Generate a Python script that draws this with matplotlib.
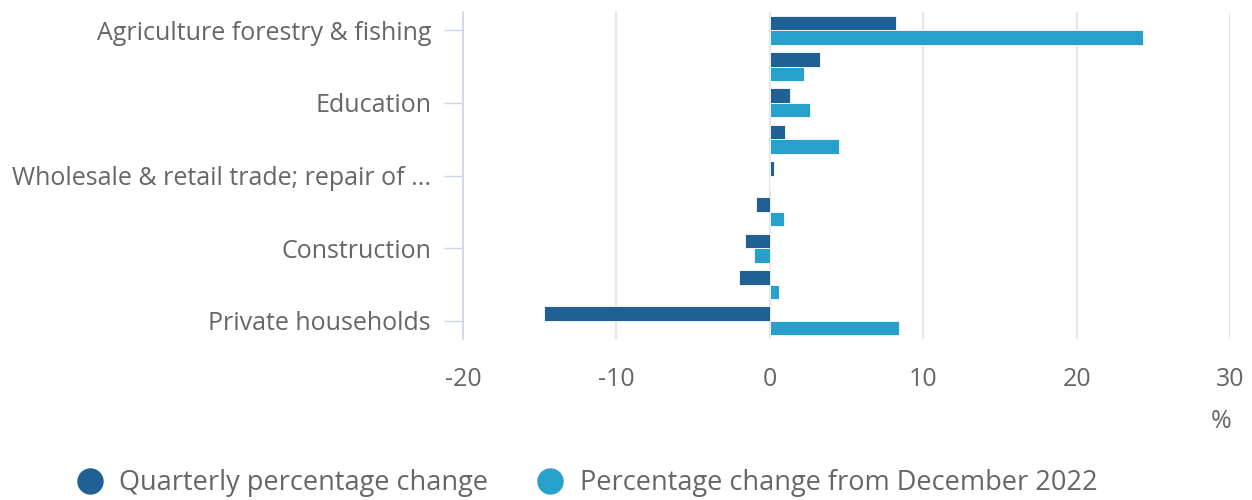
import matplotlib.pyplot as plt
from matplotlib.lines import Line2D
import numpy as np

plt.rcParams['font.family'] = ['Open Sans', 'DejaVu Sans']

# nine industries, only every other one is labelled on the chart
labels = ["Agriculture forestry & fishing", "", "Education", "",
          "Wholesale & retail trade; repair of ...", "", "Construction", "",
          "Private households"]
quarterly = [8.2, 3.3, 1.3, 1.0, 0.3, -0.9, -1.6, -2.0, -14.7]
since_dec22 = [24.3, 2.2, 2.6, 4.5, 0.0, 0.9, -1.0, 0.6, 8.4]
series_names = ["Quarterly percentage change",
                "Percentage change from December 2022"]

dark = '#206095'
light = '#27a0cc'
txt = '#666666'
axcol = '#ccd6eb'

fig = plt.figure(figsize=(12.52, 5), dpi=100)
ax = fig.add_axes([463/1252, 1-339/500, (1230-463)/1252, (339-12)/500])

y = np.arange(len(labels))
h = 0.4
ax.barh(y - h/2, quarterly, height=h, color=dark, edgecolor='white', linewidth=0.6, zorder=3)
ax.barh(y + h/2, since_dec22, height=h, color=light, edgecolor='white', linewidth=0.6, zorder=3)

ax.set_xlim(-20, 30)
ax.set_ylim(len(labels) - 0.5, -0.5)
ax.set_xticks([-20, -10, 0, 10, 20, 30])
ax.set_xticklabels(['-20', '-10', '0', '10', '20', '30'])
ax.grid(axis='x', color='#e6e6e6', linewidth=1.5, zorder=0)

ax.set_yticks(y[::2])
ax.set_yticklabels(labels[::2])
ax.tick_params(axis='y', length=14, width=1, color=axcol, pad=9, labelsize=18, labelcolor=txt)
ax.tick_params(axis='x', length=0, pad=20, labelsize=18, labelcolor=txt)

for s in ['top', 'right', 'bottom']:
    ax.spines[s].set_visible(False)
ax.spines['left'].set_color(axcol)
ax.spines['left'].set_linewidth(1.2)

fig.text(1221/1252, 1-422/500, '%', ha='center', va='center', fontsize=18, color=txt)

handles = [Line2D([], [], marker='o', linestyle='none', markersize=18, color=c)
           for c in (dark, light)]
fig.legend(handles, series_names, loc='center left', bbox_to_anchor=(49/1252, 1-483/500),
           ncol=2, frameon=False, fontsize=19.5, labelcolor=txt, handletextpad=0.5,
           columnspacing=1.67, handlelength=1.2)

fig.savefig('out.png', dpi=100)
